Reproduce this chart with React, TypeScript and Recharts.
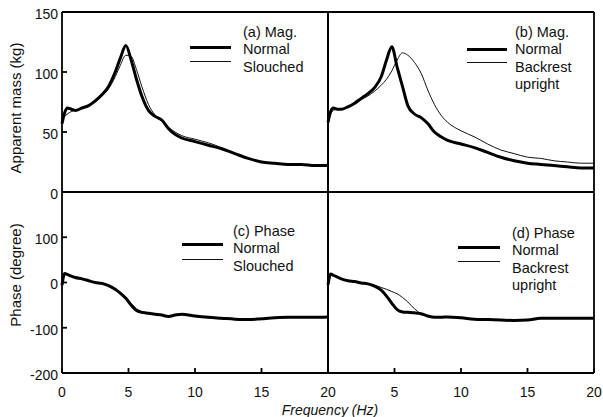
import React from 'react';
import { LineChart, Line, XAxis, YAxis } from 'recharts';

const W = 603;
const H = 417;
const FONT = '"Liberation Sans", Arial, sans-serif';

// frequency grid (Hz)
const freq = [0, 0.2, 0.4, 0.7, 1, 1.5, 2, 2.5, 3, 3.5, 4, 4.4, 4.8, 5.2, 5.6, 6, 6.5, 7, 7.5, 8, 8.5, 9, 10, 11, 12, 13, 14, 15, 16, 17, 18, 19, 20];

// (a) magnitude, kg
const aNormal = [57, 66, 70, 69, 68, 70, 72, 76, 81, 88, 100, 112, 122, 110, 94, 80, 68, 63, 60, 53, 48, 45, 42, 39, 36, 32, 28, 25, 24, 23, 23, 22, 22];
const aSlouched = [60, 63, 65, 67, 68, 70, 72, 75, 80, 86, 96, 106, 114, 113, 102, 88, 73, 64, 59, 54, 50, 47, 44, 41, 37, 32, 28, 25, 24, 23, 23, 22, 22];

// (b) magnitude, kg
const bNormal = [58, 67, 70, 69, 69, 71, 74, 78, 82, 87, 96, 110, 121, 104, 88, 72, 65, 62, 57, 50, 46, 43, 40, 37, 33, 29, 26, 24, 23, 22, 21, 20, 20];
const bUpright = [60, 65, 68, 69, 69, 71, 73, 77, 80, 84, 89, 94, 101, 110, 116, 114, 108, 99, 85, 73, 64, 58, 51, 46, 40, 35, 32, 29, 28, 26, 25, 24, 24];

// (c) phase, degree
const cNormal = [-6, 20, 18, 14, 11, 8, 4, 0, -2, -7, -15, -24, -35, -50, -62, -66, -68, -70, -72, -75, -72, -70, -74, -77, -79, -81, -82, -80, -78, -77, -77, -77, -76];
const cSlouched = [-4, 18, 17, 13, 10, 7, 3, 0, -3, -8, -16, -23, -32, -46, -58, -64, -67, -70, -73, -74, -72, -71, -75, -78, -80, -81, -81, -80, -78, -77, -77, -76, -76];

// (d) phase, degree
const dNormal = [-5, 19, 16, 12, 8, 4, 2, -1, -3, -8, -17, -30, -46, -60, -65, -66, -67, -69, -74, -77, -77, -76, -78, -81, -82, -83, -84, -83, -79, -79, -79, -79, -79];
const dUpright = [-4, 18, 16, 12, 8, 4, 2, -1, -3, -6, -11, -15, -20, -25, -33, -43, -58, -69, -74, -77, -77, -76, -78, -81, -82, -83, -84, -83, -79, -79, -79, -79, -79];

const xTicks = [0, 5, 10, 15, 20];
const magTicks = [0, 50, 100, 150];
const phaseTicks = [-200, -100, 0, 100, 200];

const rows = (n: number[], o: number[]) => freq.map((f, i) => ({ f, normal: n[i], other: o[i] }));

type PanelProps = {
  box: [number, number, number, number]; // left, top, right, bottom
  data: { f: number; normal: number; other: number }[];
  yDomain: [number, number];
  yTicks: number[];
  yLabels: boolean;
  xLabels: boolean;
  skipX0?: boolean;
  skipY?: number;
};

function Panel({ box, data, yDomain, yTicks, yLabels, xLabels, skipX0, skipY }: PanelProps) {
  const [l, t, r, b] = box;
  const axis = { stroke: '#000', strokeWidth: 1.8 };
  const tickStyle = { fill: '#111', fontSize: 14, fontFamily: FONT };
  // axes are 1px thick so they still render; margins compensate
  return (
    <div style={{ position: 'absolute', left: 0, top: 0 }}>
      <LineChart width={W} height={H} data={data} margin={{ left: l - 1, top: t - 1, right: W - r - 1, bottom: H - b - 1 }}>
        <XAxis
          xAxisId="b" dataKey="f" type="number" domain={[0, 20]} ticks={xTicks} height={1}
          axisLine={axis} tickLine={axis} tickSize={-5} tickMargin={19}
          tick={xLabels ? tickStyle : false}
          tickFormatter={(v: number) => (skipX0 && v === 0 ? '' : String(v))}
          interval={0}
        />
        <XAxis
          xAxisId="t" orientation="top" dataKey="f" type="number" domain={[0, 20]} ticks={xTicks} height={1}
          axisLine={axis} tickLine={axis} tickSize={-5} tick={false}
        />
        <YAxis
          yAxisId="l" type="number" domain={yDomain} ticks={yTicks} width={1} allowDataOverflow
          axisLine={axis} tickLine={axis} tickSize={-5} tickMargin={9}
          tick={yLabels ? { ...tickStyle, dy: 2 } : false}
          tickFormatter={(v: number) => (v === skipY ? '' : String(v))}
          interval={0}
        />
        <YAxis
          yAxisId="r" orientation="right" type="number" domain={yDomain} ticks={yTicks} width={1} allowDataOverflow
          axisLine={axis} tickLine={axis} tickSize={-5} tick={false}
        />
        <Line xAxisId="b" yAxisId="l" type="monotone" dataKey="other" stroke="#111" strokeWidth={1} dot={false} isAnimationActive={false} />
        <Line xAxisId="b" yAxisId="l" type="monotone" dataKey="normal" stroke="#000" strokeWidth={3} dot={false} isAnimationActive={false} />
      </LineChart>
    </div>
  );
}

type LegendProps = { x: number; y: number; lineX: [number, number]; thickY: number; thinY: number; lines: string[] };

function PanelLegend({ x, y, lineX, thickY, thinY, lines }: LegendProps) {
  return (
    <>
      <div style={{ position: 'absolute', left: lineX[0], top: thickY - 1.5, width: lineX[1] - lineX[0], height: 3, background: '#000' }} />
      <div style={{ position: 'absolute', left: lineX[0], top: thinY - 0.5, width: lineX[1] - lineX[0], height: 1, background: '#111' }} />
      {lines.map((s, i) => (
        <div key={s} style={{ position: 'absolute', left: x, top: y + i * 17.3 - 8, fontSize: 14.5, lineHeight: '16px', fontFamily: FONT, color: '#111', whiteSpace: 'nowrap' }}>
          {s}
        </div>
      ))}
    </>
  );
}

export default function App() {
  return (
    <div style={{ position: 'absolute', left: 0, top: 0, width: W, height: H, background: '#fff', overflow: 'hidden' }}>
      <Panel box={[62, 12, 328, 192]} data={rows(aNormal, aSlouched)} yDomain={[0, 150]} yTicks={magTicks} yLabels xLabels={false} />
      <Panel box={[328, 12, 594, 192]} data={rows(bNormal, bUpright)} yDomain={[0, 150]} yTicks={magTicks} yLabels={false} xLabels={false} />
      <Panel box={[62, 192, 328, 373]} data={rows(cNormal, cSlouched)} yDomain={[-200, 200]} yTicks={phaseTicks} yLabels xLabels skipY={200} />
      <Panel box={[328, 192, 594, 373]} data={rows(dNormal, dUpright)} yDomain={[-200, 200]} yTicks={phaseTicks} yLabels={false} xLabels skipX0 />

      <PanelLegend x={243} y={32} lineX={[190, 231]} thickY={47} thinY={61} lines={['(a) Mag.', 'Normal', 'Slouched']} />
      <PanelLegend x={515} y={32} lineX={[467, 507]} thickY={49} thinY={62} lines={['(b) Mag.', 'Normal', 'Backrest', 'upright']} />
      <PanelLegend x={233} y={231} lineX={[182, 223]} thickY={244} thinY={259} lines={['(c) Phase', 'Normal', 'Slouched']} />
      <PanelLegend x={512} y={233} lineX={[458, 500]} thickY={247} thinY={261} lines={['(d) Phase', 'Normal', 'Backrest', 'upright']} />

      <div style={{ position: 'absolute', left: 15, top: 108, transform: 'translate(-50%, -50%) rotate(-90deg)', fontSize: 15, fontFamily: FONT, color: '#111', whiteSpace: 'nowrap' }}>
        Apparent mass (kg)
      </div>
      <div style={{ position: 'absolute', left: 15, top: 275, transform: 'translate(-50%, -50%) rotate(-90deg)', fontSize: 15, fontFamily: FONT, color: '#111', whiteSpace: 'nowrap' }}>
        Phase (degree)
      </div>
      <div style={{ position: 'absolute', left: 330, top: 410, transform: 'translate(-50%, -50%)', fontSize: 14, fontStyle: 'italic', fontFamily: FONT, color: '#111', whiteSpace: 'nowrap' }}>
        Frequency (Hz)
      </div>
    </div>
  );
}
